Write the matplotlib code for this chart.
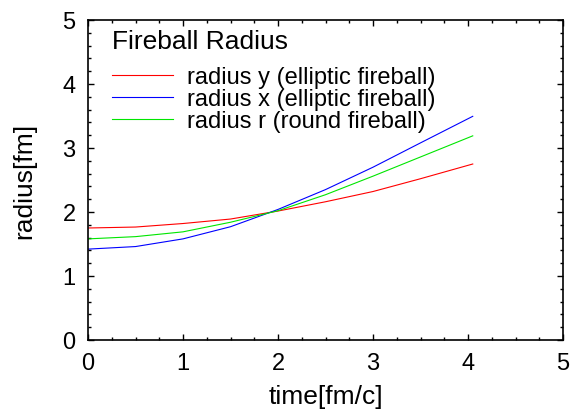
import numpy as np
import matplotlib
matplotlib.use("Agg")
import matplotlib.pyplot as plt
from matplotlib.ticker import MultipleLocator

# values (time in fm/c, radius in fm)
time = [0.0, 0.5, 1.0, 1.5, 2.0, 2.5, 3.0, 3.5, 4.05]
radius_y = [1.75, 1.765, 1.82, 1.89, 2.015, 2.16, 2.32, 2.52, 2.75]
radius_x = [1.42, 1.46, 1.58, 1.77, 2.04, 2.35, 2.70, 3.08, 3.495]
radius_r = [1.58, 1.615, 1.69, 1.84, 2.02, 2.27, 2.56, 2.86, 3.19]

series = [
    ("radius y (elliptic fireball)", radius_y, "#ff0000"),
    ("radius x (elliptic fireball)", radius_x, "#0000ff"),
    ("radius r (round fireball)", radius_r, "#00e600"),
]

plt.rcParams["font.family"] = ["Liberation Sans", "DejaVu Sans"]

fig = plt.figure(figsize=(5.72, 4.10), dpi=100)
ax = fig.add_axes([88 / 572, 69 / 410, 475 / 572, 320 / 410])

for label, vals, color in series:
    ax.plot(time, vals, color=color, lw=0.8, label=label)

ax.set_xlim(0, 5)
ax.set_ylim(0, 5)
ax.xaxis.set_major_locator(MultipleLocator(1))
ax.xaxis.set_minor_locator(MultipleLocator(0.25))
ax.yaxis.set_major_locator(MultipleLocator(1))
ax.yaxis.set_minor_locator(MultipleLocator(0.2))
ax.tick_params(which="both", direction="in", top=True, right=True, width=1.0)
ax.tick_params(which="major", length=4.5, labelsize=17, pad=9)
ax.tick_params(which="minor", length=2.3)
for sp in ax.spines.values():
    sp.set_linewidth(1.2)

ax.set_xlabel("time[fm/c]", fontsize=19, labelpad=7)
ax.set_ylabel("radius[fm]", fontsize=19, labelpad=19)

leg = ax.legend(title="Fireball Radius", loc="upper left", frameon=False,
                fontsize=17, title_fontsize=19, handlelength=2.6,
                handletextpad=0.6, labelspacing=0.0,
                borderaxespad=0.2, bbox_to_anchor=(0.02, 1.015))
leg._legend_box.align = "left"
leg._legend_box.sep = 9

fig.savefig("out.png", dpi=100)
